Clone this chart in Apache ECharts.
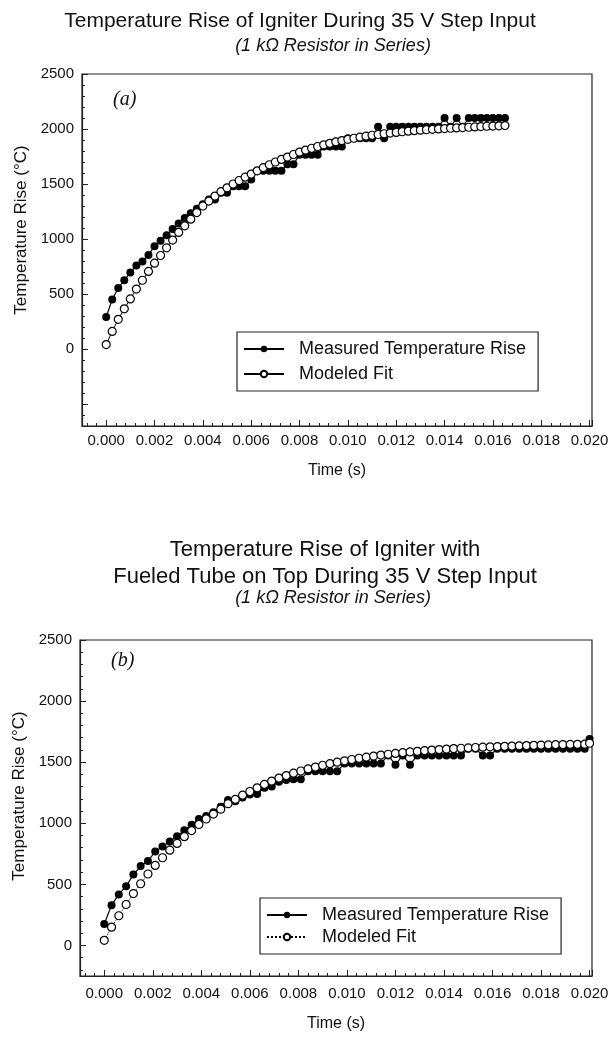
<!DOCTYPE html>
<html>
<head>
<meta charset="utf-8">
<script src="https://cdn.jsdelivr.net/npm/echarts@6/dist/echarts.min.js"></script>
<style>
  html, body { margin: 0; padding: 0; background: #fff; }
  #chartA { position: absolute; left: 0; top: 0; width: 613px; height: 505px; }
  #chartB { position: absolute; left: 0; top: 505px; width: 613px; height: 532px; }
</style>
</head>
<body>
<div id="chartA"></div>
<div id="chartB"></div>
<script>
// (a) igniter alone, sampled every 0.25 ms
var timeA = [0, 0.00025, 0.0005, 0.00075, 0.001, 0.00125, 0.0015, 0.00175, 0.002, 0.00225,
  0.0025, 0.00275, 0.003, 0.00325, 0.0035, 0.00375, 0.004, 0.00425, 0.0045, 0.00475,
  0.005, 0.00525, 0.0055, 0.00575, 0.006, 0.00625, 0.0065, 0.00675, 0.007, 0.00725,
  0.0075, 0.00775, 0.008, 0.00825, 0.0085, 0.00875, 0.009, 0.00925, 0.0095, 0.00975,
  0.01, 0.01025, 0.0105, 0.01075, 0.011, 0.01125, 0.0115, 0.01175, 0.012, 0.01225,
  0.0125, 0.01275, 0.013, 0.01325, 0.0135, 0.01375, 0.014, 0.01425, 0.0145, 0.01475,
  0.015, 0.01525, 0.0155, 0.01575, 0.016, 0.01625, 0.0165];
var measuredA = [290, 450, 555, 625, 695, 760, 795, 855, 935, 985,
  1035, 1090, 1140, 1190, 1235, 1275, 1315, 1360, 1360, 1420,
  1420, 1480, 1480, 1480, 1540, 1620, 1620, 1620, 1620, 1620,
  1680, 1680, 1765, 1765, 1765, 1765, 1840, 1840, 1840, 1840,
  1915, 1915, 1915, 1915, 1915, 2020, 1915, 2020, 2020, 2020,
  2020, 2020, 2020, 2020, 2020, 2020, 2100, 2020, 2100, 2020,
  2100, 2100, 2100, 2100, 2100, 2100, 2100];
var modeledA = [40, 160, 270, 365, 455, 545, 625, 705, 780, 850,
  920, 990, 1060, 1120, 1180, 1240, 1300, 1345, 1390, 1430,
  1465, 1500, 1532, 1562, 1590, 1620, 1648, 1675, 1700, 1723,
  1745, 1768, 1790, 1808, 1825, 1841, 1856, 1870, 1883, 1895,
  1906, 1916, 1926, 1935, 1943, 1950, 1957, 1963, 1969, 1975,
  1980, 1985, 1989, 1993, 1997, 2001, 2004, 2007, 2010, 2013,
  2016, 2019, 2022, 2025, 2027, 2029, 2031];

// (b) igniter with fueled tube, sampled every 0.3 ms
var timeB = [0, 0.0003, 0.0006, 0.0009, 0.0012, 0.0015, 0.0018, 0.0021, 0.0024, 0.0027,
  0.003, 0.0033, 0.0036, 0.0039, 0.0042, 0.0045, 0.0048, 0.0051, 0.0054, 0.0057,
  0.006, 0.0063, 0.0066, 0.0069, 0.0072, 0.0075, 0.0078, 0.0081, 0.0084, 0.0087,
  0.009, 0.0093, 0.0096, 0.0099, 0.0102, 0.0105, 0.0108, 0.0111, 0.0114, 0.0117,
  0.012, 0.0123, 0.0126, 0.0129, 0.0132, 0.0135, 0.0138, 0.0141, 0.0144, 0.0147,
  0.015, 0.0153, 0.0156, 0.0159, 0.0162, 0.0165, 0.0168, 0.0171, 0.0174, 0.0177,
  0.018, 0.0183, 0.0186, 0.0189, 0.0192, 0.0195, 0.0198, 0.02];
var measuredB = [175, 330, 418, 485, 580, 650, 692, 768, 810, 850,
  893, 943, 988, 1035, 1060, 1090, 1135, 1190, 1180, 1210,
  1235, 1240, 1290, 1300, 1340, 1355, 1360, 1360, 1425, 1425,
  1425, 1425, 1425, 1490, 1490, 1490, 1490, 1490, 1490, 1555,
  1480, 1555, 1480, 1555, 1555, 1555, 1555, 1555, 1555, 1555,
  1610, 1610, 1555, 1555, 1610, 1610, 1610, 1610, 1610, 1610,
  1610, 1610, 1610, 1610, 1610, 1610, 1610, 1690];
var modeledB = [42, 150, 243, 335, 425, 505, 585, 655, 718, 780,
  835, 890, 940, 990, 1035, 1075, 1115, 1160, 1195, 1230,
  1260, 1290, 1318, 1345, 1370, 1390, 1410, 1428, 1445, 1460,
  1475, 1488, 1500, 1511, 1522, 1532, 1541, 1550, 1558, 1565,
  1572, 1578, 1584, 1589, 1594, 1599, 1603, 1607, 1611, 1614,
  1617, 1620, 1623, 1626, 1628, 1630, 1632, 1634, 1636, 1638,
  1640, 1641, 1643, 1644, 1645, 1646, 1647, 1655];

var seriesNames = ['Measured Temperature Rise', 'Modeled Fit'];
var subtitle = '(1 k\u03A9 Resistor in Series)';

var font = "'Liberation Sans', Arial, sans-serif";
var ink = '#111';

function pairs(t, v) {
  return t.map(function (x, i) { return [x, v[i]]; });
}

function buildOption(c) {
  return {
    animation: false,
    backgroundColor: '#fff',
    title: [
      {
        text: c.title, left: c.titleX, top: c.titleTop, textAlign: 'center',
        textStyle: { fontFamily: font, fontSize: c.titleSize, fontWeight: 'normal', color: ink, lineHeight: 27 }
      },
      {
        text: subtitle, left: 328, top: c.subTop, textAlign: 'center',
        textStyle: { fontFamily: font, fontSize: 18, fontStyle: 'italic', fontWeight: 'normal', color: ink }
      },
      {
        text: c.tag, left: c.grid.left + 26, top: c.tagTop,
        textStyle: { fontFamily: "'Liberation Serif', serif", fontSize: 20, fontStyle: 'italic', fontWeight: 'normal', color: ink }
      }
    ],
    grid: Object.assign({ show: true, borderColor: '#222', borderWidth: 1.2 }, c.grid),
    legend: {
      orient: 'vertical',
      left: c.legendLeft, top: c.legendTop,
      padding: [8, 12, 8, 6],
      itemGap: c.legendGap, itemWidth: 40, itemHeight: 8,
      borderColor: '#222', borderWidth: 1.2, borderRadius: 0,
      backgroundColor: '#fff',
      textStyle: { fontFamily: font, fontSize: 18, color: ink, padding: [0, 0, 0, 10] },
      data: seriesNames
    },
    xAxis: {
      type: 'value',
      min: -0.001, max: 0.0201, splitNumber: 10,
      name: 'Time (s)', nameLocation: 'middle', nameGap: c.xNameGap,
      nameTextStyle: { fontFamily: font, fontSize: 16, color: ink },
      axisLine: { onZero: false, lineStyle: { color: '#222', width: 1.2 } },
      axisTick: { inside: true, length: 6, lineStyle: { color: '#222' } },
      minorTick: { show: true, splitNumber: 5, length: 3, lineStyle: { color: '#222' } },
      splitLine: { show: false },
      axisLabel: {
        fontFamily: font, fontSize: 15, color: ink, margin: c.xLabelMargin,
        showMinLabel: false, showMaxLabel: false,
        formatter: function (v) { return v.toFixed(3); }
      }
    },
    yAxis: {
      type: 'value',
      min: c.yMin, max: 2500, splitNumber: c.ySplit,
      name: 'Temperature Rise (\u00B0C)', nameLocation: 'middle', nameGap: c.yNameGap,
      nameTextStyle: { fontFamily: font, fontSize: 17, color: ink, padding: [0, 0, 0, c.yNameShift] },
      axisLine: { show: true, onZero: false, lineStyle: { color: '#222', width: 1.2 } },
      axisTick: { show: true, inside: true, length: 6, lineStyle: { color: '#222' } },
      minorTick: { show: true, splitNumber: 5, length: 3, lineStyle: { color: '#222' } },
      splitLine: { show: false },
      axisLabel: {
        fontFamily: font, fontSize: 15, color: ink, margin: 8,
        formatter: function (v) { return v < 0 ? '' : String(v); }
      }
    },
    series: [
      {
        name: seriesNames[0], type: 'line',
        data: pairs(c.time, c.measured),
        symbol: 'circle', symbolSize: 8,
        itemStyle: { color: '#000' },
        lineStyle: { color: '#000', width: 1.2 },
        z: 2
      },
      {
        name: seriesNames[1], type: 'line',
        data: pairs(c.time, c.modeled),
        symbol: 'circle', symbolSize: 8, showAllSymbol: true,
        itemStyle: { color: '#fff', borderColor: '#000', borderWidth: 1.2 },
        lineStyle: { color: '#000', width: 1, type: c.fitLine },
        z: 3
      }
    ]
  };
}

var chartA = echarts.init(document.getElementById('chartA'));
chartA.setOption(buildOption({
  title: 'Temperature Rise of Igniter During 35 V Step Input',
  titleX: 295, titleSize: 21, titleTop: 3, subTop: 32, tag: '(a)', tagTop: 85,
  grid: { left: 82, top: 74, width: 510, height: 352 },
  legendLeft: 237, legendTop: 332, legendGap: 7,
  xLabelMargin: 7, xNameGap: 37,
  yMin: -700, ySplit: 6, yNameGap: 46, yNameShift: 40,
  time: timeA, measured: measuredA, modeled: modeledA, fitLine: 'solid'
}));

var chartB = echarts.init(document.getElementById('chartB'));
chartB.setOption(buildOption({
  title: 'Temperature Rise of Igniter with\nFueled Tube on Top During 35 V Step Input',
  titleX: 320, titleSize: 22, titleTop: 26, subTop: 79, tag: '(b)', tagTop: 141,
  grid: { left: 80, top: 135, width: 512, height: 348 },
  legendLeft: 260, legendTop: 393, legendGap: 4,
  xLabelMargin: 10, xNameGap: 40,
  yMin: -250, ySplit: 5, yNameGap: 48, yNameShift: 24,
  time: timeB, measured: measuredB, modeled: modeledB, fitLine: 'dotted'
}));
</script>
</body>
</html>
